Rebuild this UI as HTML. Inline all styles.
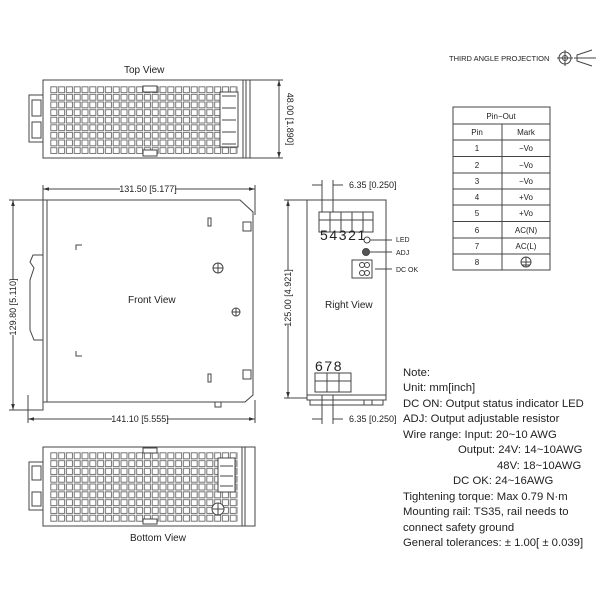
<!DOCTYPE html><html><head><style>body{margin:0;background:#fff}svg{display:block}</style></head><body>
<svg width="600" height="600" viewBox="0 0 600 600" xmlns="http://www.w3.org/2000/svg" font-family="Liberation Sans, sans-serif">
<defs>
<pattern id="g" x="50" y="86" width="7.8" height="7.6" patternUnits="userSpaceOnUse"><rect x="0.8" y="0.8" width="6" height="5.8" fill="none" stroke="#666" stroke-width="0.9"/></pattern>
<pattern id="g2" x="50" y="452" width="7.8" height="7.8" patternUnits="userSpaceOnUse"><rect x="0.8" y="0.8" width="6" height="6" fill="none" stroke="#666" stroke-width="0.9"/></pattern>
<marker id="a" viewBox="0 0 10 10" refX="10" refY="5" markerWidth="6" markerHeight="6" orient="auto-start-reverse"><path d="M0,2L10,5L0,8z" fill="#333"/></marker>
</defs>
<g stroke="#444" fill="none" stroke-width="1">
<!-- Top view -->
<rect x="43" y="80" width="207" height="78"/>
<rect x="50" y="86" width="188" height="68" fill="url(#g)" stroke="none"/>
<rect x="220" y="92" width="18" height="55" fill="#fff"/>
<path d="M222 96h14M222 108h14M222 120h14M222 132h14M222 144h14"/>
<line x1="243" y1="80" x2="243" y2="158"/><line x1="246" y1="80" x2="246" y2="158"/>
<rect x="29" y="95" width="14" height="47"/><rect x="32" y="100" width="9" height="16"/><rect x="32" y="122" width="9" height="16"/>
<rect x="143" y="86" width="14" height="6" fill="#fff"/><rect x="143" y="150" width="14" height="6" fill="#fff"/>
<line x1="279" y1="80" x2="279" y2="158" marker-start="url(#a)" marker-end="url(#a)"/>
<line x1="250" y1="80" x2="283" y2="80"/><line x1="250" y1="158" x2="283" y2="158"/>
<!-- Front view -->
<path d="M43 200H240L253 212V395L245 402H43Z"/>
<line x1="47" y1="200" x2="47" y2="402"/>
<path d="M43 255H33L30 262L34 268L30 280V330L34 340H43M43 402V410H28V395"/>
<line x1="43" y1="189" x2="255" y2="189" marker-start="url(#a)" marker-end="url(#a)"/>
<line x1="43" y1="185" x2="43" y2="200"/><line x1="255" y1="185" x2="255" y2="215"/>
<line x1="28" y1="419" x2="255" y2="419" marker-start="url(#a)" marker-end="url(#a)"/>
<line x1="28" y1="410" x2="28" y2="423"/><line x1="255" y1="400" x2="255" y2="423"/>
<line x1="13" y1="200" x2="13" y2="410" marker-start="url(#a)" marker-end="url(#a)"/>
<line x1="9" y1="200" x2="43" y2="200"/><line x1="9" y1="410" x2="28" y2="410"/>
<path d="M76 250V245H82M76 351V356H82"/>
<rect x="208" y="218" width="3" height="8"/><rect x="208" y="374" width="3" height="8"/>
<circle cx="218" cy="268" r="5"/><path d="M213 268h10M218 263v10"/>
<circle cx="236" cy="312" r="4"/><path d="M232 312h8M236 308v8"/>
<rect x="243" y="222" width="8" height="9"/><rect x="243" y="370" width="8" height="9"/>
<rect x="215" y="402" width="6" height="5"/>
<!-- Right view -->
<rect x="307" y="200" width="79" height="200"/>
<path d="M307 395H386M310 400V405H383V400"/>
<rect x="319" y="212" width="54" height="20"/><path d="M319 220h54M330 212v20M341 212v20M352 212v20M363 212v20"/>
<circle cx="367" cy="240" r="3"/><line x1="370" y1="240" x2="392" y2="240"/>
<circle cx="366" cy="252" r="3.5" fill="#555"/><line x1="370" y1="252" x2="392" y2="252"/>
<rect x="352" y="260" width="20" height="18"/><circle cx="362" cy="265" r="2.5"/><circle cx="367" cy="265" r="2.5"/><circle cx="362" cy="273" r="2.5"/><circle cx="367" cy="273" r="2.5"/><line x1="375" y1="269" x2="392" y2="269"/>
<rect x="315" y="373" width="36" height="19"/><path d="M315 381h36M327 373v19M339 373v19"/>
<path d="M307 298v6M386 298v6"/>
<line x1="288" y1="200" x2="288" y2="398" marker-start="url(#a)" marker-end="url(#a)"/>
<line x1="284" y1="200" x2="307" y2="200"/><line x1="284" y1="398" x2="307" y2="398"/>
<path d="M322 180v32M333 180v32M312 185h10M343 185h-10"/>
<path d="M322 395v29M333 395v29M312 419h10M343 419h-10"/>
<rect x="364" y="400" width="8" height="5"/>
<!-- Bottom view -->
<rect x="43" y="447" width="212" height="79"/>
<rect x="50" y="452" width="188" height="70" fill="url(#g2)" stroke="none"/>
<rect x="218" y="458" width="17" height="34" fill="#fff"/><path d="M220 466h13M220 476h13M220 486h13"/>
<circle cx="218" cy="509" r="6" fill="#fff"/><path d="M212 509h12M218 503v12"/>
<line x1="242" y1="447" x2="242" y2="526"/><line x1="245" y1="447" x2="245" y2="526"/>
<rect x="143" y="448" width="14" height="5" fill="#fff"/><rect x="143" y="519" width="14" height="5" fill="#fff"/>
<rect x="29" y="462" width="14" height="48"/><rect x="32" y="466" width="9" height="14"/><rect x="32" y="492" width="9" height="14"/>
<!-- Table -->
<rect x="453" y="107" width="97" height="163"/>
<path d="M453 124h97M453 140h97M453 156.5h97M453 173h97M453 189h97M453 205h97M453 221.5h97M453 238h97M453 254h97M502 124v146"/>
<circle cx="526" cy="262" r="5"/><path d="M521 262h10M526 257v10M522 265h8"/>
<!-- projection -->
<circle cx="565" cy="58" r="6"/><circle cx="565" cy="58" r="2.5"/><path d="M557 58h16M565 50v16"/>
<path d="M592 50L577 55V61L592 66"/><line x1="574" y1="58" x2="596" y2="58"/>
</g>
<g fill="#222" font-size="9">
<text x="124" y="73" font-size="10">Top View</text>
<text transform="translate(287 119) rotate(90)" text-anchor="middle">48.00 [1.890]</text>
<rect x="120" y="183" width="55" height="12" fill="#fff"/><text x="148" y="192" text-anchor="middle">131.50 [5.177]</text>
<rect x="112" y="413" width="55" height="12" fill="#fff"/><text x="140" y="422" text-anchor="middle">141.10 [5.555]</text>
<rect x="7" y="280" width="12" height="55" fill="#fff"/><text transform="translate(16 307) rotate(-90)" text-anchor="middle">129.80 [5.110]</text>
<rect x="282" y="270" width="12" height="55" fill="#fff"/><text transform="translate(291 298) rotate(-90)" text-anchor="middle">125.00 [4.921]</text>
<text x="128" y="303" font-size="10">Front View</text>
<text x="325" y="308" font-size="10">Right View</text>
<text x="130" y="541" font-size="10">Bottom View</text>
<text x="349" y="188">6.35 [0.250]</text>
<text x="349" y="422">6.35 [0.250]</text>
<text x="320" y="240" font-size="14" letter-spacing="1.6">54321</text>
<text x="315" y="371" font-size="14" letter-spacing="1.6">678</text>
<text x="396" y="242" font-size="7">LED</text>
<text x="396" y="255" font-size="7">ADJ</text>
<text x="396" y="272" font-size="7">DC OK</text>
<text x="449" y="61" font-size="7.5">THIRD ANGLE PROJECTION</text>
<g font-size="8" text-anchor="middle">
<text x="501" y="119">Pin−Out</text>
<text x="477" y="135">Pin</text><text x="526" y="135">Mark</text>
<text x="477" y="151">1</text><text x="526" y="151">−Vo</text>
<text x="477" y="168">2</text><text x="526" y="168">−Vo</text>
<text x="477" y="184">3</text><text x="526" y="184">−Vo</text>
<text x="477" y="200">4</text><text x="526" y="200">+Vo</text>
<text x="477" y="216">5</text><text x="526" y="216">+Vo</text>
<text x="477" y="233">6</text><text x="526" y="233">AC(N)</text>
<text x="477" y="249">7</text><text x="526" y="249">AC(L)</text>
<text x="477" y="265">8</text>
</g>
<g font-size="11.3">
<text x="403" y="376">Note:</text>
<text x="403" y="391">Unit: mm[inch]</text>
<text x="403" y="407">DC ON: Output status indicator LED</text>
<text x="403" y="422">ADJ: Output adjustable resistor</text>
<text x="403" y="438">Wire range: Input: 20~10 AWG</text>
<text x="458" y="453">Output: 24V: 14~10AWG</text>
<text x="497" y="469">48V: 18~10AWG</text>
<text x="453" y="484">DC OK: 24~16AWG</text>
<text x="403" y="500">Tightening torque: Max 0.79 N·m</text>
<text x="403" y="515">Mounting rail: TS35, rail needs to</text>
<text x="403" y="531">connect safety ground</text>
<text x="403" y="546">General tolerances: ± 1.00[ ± 0.039]</text>
</g>
</g>
</svg>
</body></html>
